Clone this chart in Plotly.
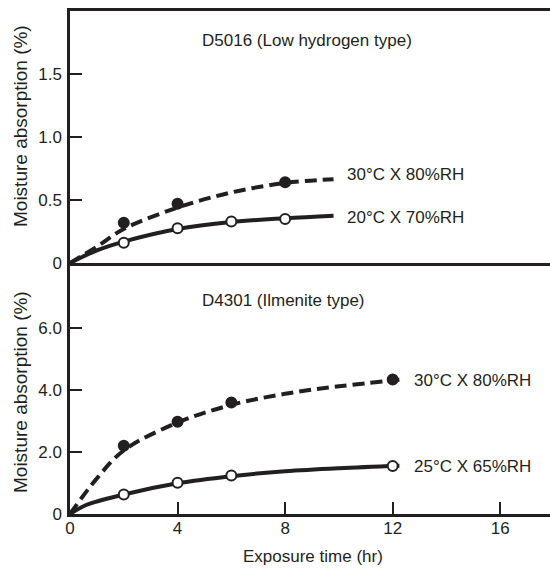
import plotly.graph_objects as go

# ---------------- data ----------------
# Top panel: D5016 (Low hydrogen type)
top_fill_x = [2, 4, 8]
top_fill_y = [0.32, 0.47, 0.64]
top_open_x = [2, 4, 6, 8]
top_open_y = [0.16, 0.275, 0.33, 0.35]
top_dash_curve_x = [0, 1, 2, 4, 6, 8, 9.8]
top_dash_curve_y = [0, 0.13, 0.27, 0.44, 0.56, 0.635, 0.665]
top_solid_curve_x = [0, 1, 2, 4, 6, 8, 9.8]
top_solid_curve_y = [0, 0.1, 0.17, 0.27, 0.325, 0.355, 0.375]

# Bottom panel: D4301 (Ilmenite type)
bot_fill_x = [2, 4, 6, 12]
bot_fill_y = [2.2, 2.98, 3.6, 4.34]
bot_open_x = [2, 4, 6, 12]
bot_open_y = [0.63, 1.01, 1.24, 1.55]
bot_dash_curve_x = [0, 1, 2, 4, 6, 8, 10, 12.25]
bot_dash_curve_y = [0, 1.15, 2.05, 2.95, 3.52, 3.88, 4.12, 4.33]
bot_solid_curve_x = [0, 0.6, 2, 4, 6, 8, 10, 12.25]
bot_solid_curve_y = [0, 0.29, 0.63, 0.99, 1.22, 1.38, 1.48, 1.56]

x_ticks = [0, 4, 8, 12, 16]
top_y_ticks = [0, 0.5, 1.0, 1.5]
top_y_labels = ["0", "0.5", "1.0", "1.5"]
bot_y_ticks = [0, 2, 4, 6]
bot_y_labels = ["0", "2.0", "4.0", "6.0"]

top_title = "D5016 (Low hydrogen type)"
bot_title = "D4301 (Ilmenite type)"
top_labels = ["30°C X 80%RH", "20°C X 70%RH"]
bot_labels = ["30°C X 80%RH", "25°C X 65%RH"]
y_title = "Moisture absorption (%)"
x_title = "Exposure time (hr)"

# ---------------- style ----------------
INK = "#231f20"
FONT = "Liberation Sans, Arial, sans-serif"
FS = 17
LW = 4
DASH = "12px,6px"

fig = go.Figure()

def curve(x, y, dash, xa, ya):
    fig.add_trace(go.Scatter(x=x, y=y, mode="lines", xaxis=xa, yaxis=ya,
                             line=dict(color=INK, width=LW, dash=dash, shape="spline", smoothing=1.0),
                             hoverinfo="skip", showlegend=False))

def pts(x, y, filled, xa, ya):
    fig.add_trace(go.Scatter(x=x, y=y, mode="markers", xaxis=xa, yaxis=ya,
                             marker=dict(size=10, color=INK if filled else "white",
                                         line=dict(color=INK, width=2)),
                             showlegend=False))

# top panel (x2 / y2)
curve(top_dash_curve_x, top_dash_curve_y, DASH, "x2", "y2")
curve(top_solid_curve_x, top_solid_curve_y, "solid", "x2", "y2")
pts(top_fill_x, top_fill_y, True, "x2", "y2")
pts(top_open_x, top_open_y, False, "x2", "y2")
# bottom panel (x / y)
curve(bot_dash_curve_x, bot_dash_curve_y, DASH, "x", "y")
curve(bot_solid_curve_x, bot_solid_curve_y, "solid", "x", "y")
pts(bot_fill_x, bot_fill_y, True, "x", "y")
pts(bot_open_x, bot_open_y, False, "x", "y")

xr = [0, 17.85]
split = 251 / 503

axis_common = dict(showgrid=False, zeroline=False, showline=True, linecolor=INK, linewidth=2.5,
                   ticks="inside", ticklen=12, tickwidth=1.5, tickcolor=INK,
                   tickfont=dict(family=FONT, size=FS, color=INK))

fig.update_layout(
    width=550, height=568,
    margin=dict(l=70, r=0, t=11, b=54),
    paper_bgcolor="white", plot_bgcolor="white",
    font=dict(family=FONT, size=FS, color=INK),
    xaxis=dict(axis_common, domain=[0, 1], range=xr, anchor="y",
               tickvals=x_ticks, ticklabelstandoff=-3),
    yaxis=dict(axis_common, domain=[0, split], range=[0, 8.1], anchor="x",
               tickvals=bot_y_ticks, ticktext=bot_y_labels, ticklabelstandoff=2),
    xaxis2=dict(axis_common, domain=[0, 1], range=xr, anchor="y2",
                ticks="", showticklabels=False, mirror=True),
    yaxis2=dict(axis_common, domain=[split, 1], range=[0, 2.0], anchor="x2",
                tickvals=top_y_ticks, ticktext=top_y_labels, ticklabelstandoff=2),
)

ann = []
# panel titles
ann.append(dict(text=top_title, xref="x2", yref="y2", x=4.85, y=(263 - 40) / 126,
                xanchor="left", yanchor="middle", showarrow=False))
ann.append(dict(text=bot_title, xref="x", yref="y", x=4.85, y=(514 - 300) / 31,
                xanchor="left", yanchor="middle", showarrow=False))
# series labels
ann.append(dict(text=top_labels[0], xref="x2", yref="y2", x=10.22, y=0.70,
                xanchor="left", yanchor="middle", showarrow=False))
ann.append(dict(text=top_labels[1], xref="x2", yref="y2", x=10.22, y=0.365,
                xanchor="left", yanchor="middle", showarrow=False))
ann.append(dict(text=bot_labels[0], xref="x", yref="y", x=12.7, y=4.32,
                xanchor="left", yanchor="middle", showarrow=False))
ann.append(dict(text=bot_labels[1], xref="x", yref="y", x=12.7, y=1.52,
                xanchor="left", yanchor="middle", showarrow=False))
# y titles
ann.append(dict(text=y_title, xref="paper", yref="paper", x=(20 - 70) / 480,
                y=(514 - 126) / 503, textangle=-90, xanchor="center", yanchor="middle",
                showarrow=False, font=dict(size=19)))
ann.append(dict(text=y_title, xref="paper", yref="paper", x=(20 - 70) / 480,
                y=(514 - 392) / 503, textangle=-90, xanchor="center", yanchor="middle",
                showarrow=False, font=dict(size=19)))
# x title
ann.append(dict(text=x_title, xref="paper", yref="paper", x=(313 - 70) / 480,
                y=(514 - 556) / 503, xanchor="center", yanchor="middle", showarrow=False))
fig.update_layout(annotations=ann)

fig.write_html("out.html", config={"displayModeBar": False},
               post_script="document.body.style.margin='0';")
